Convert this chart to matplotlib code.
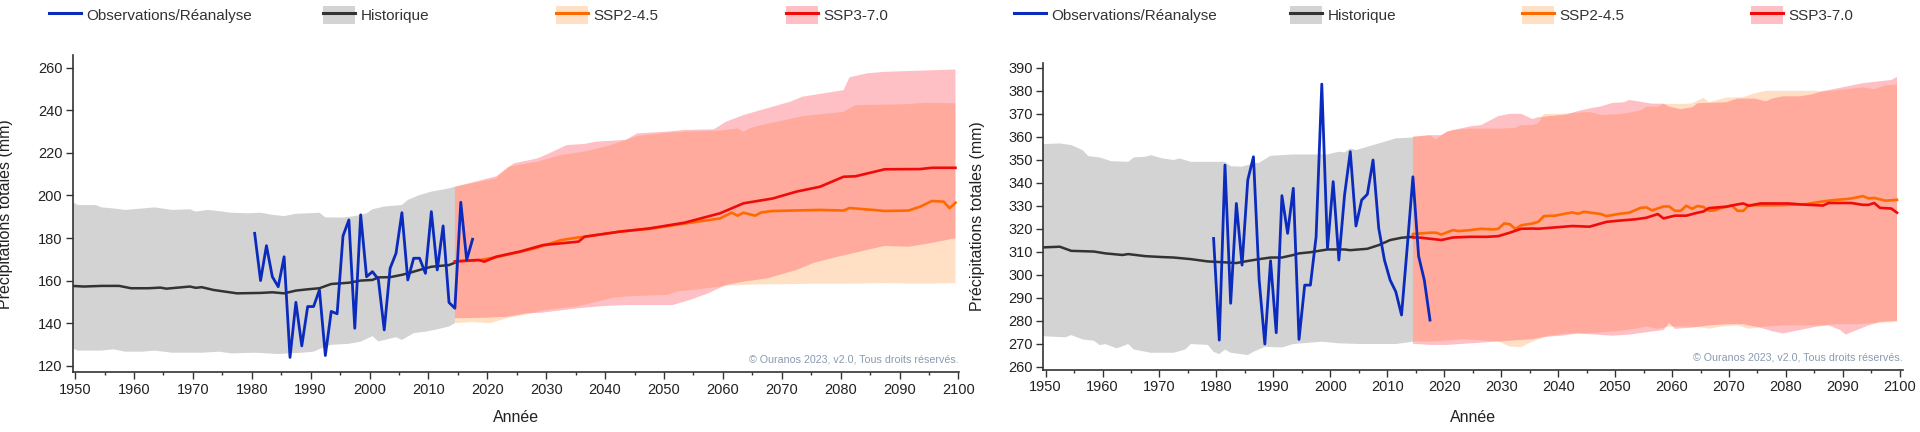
import numpy as np
import matplotlib
matplotlib.use("Agg")
import matplotlib.pyplot as plt
from matplotlib.patches import Patch
from matplotlib.lines import Line2D

plt.rcParams['font.family'] = ['Liberation Sans', 'DejaVu Sans']

# ---------------- left panel ----------------
l_obs_years = list(range(1981, 2019))
l_obs = [182.2, 160.0, 176.4, 161.8, 157.1, 171.2, 123.9, 149.8, 129.3, 147.8,
         147.8, 155.6, 124.8, 145.5, 144.4, 181.0, 188.5, 137.6, 190.9, 161.8,
         164.2, 160.6, 136.8, 165.8, 172.8, 191.9, 160.3, 170.5, 170.5, 163.4,
         192.4, 165.0, 185.7, 149.7, 147.0, 196.8, 169.7, 179.4]

l_hist_years = [1950, 1952, 1955, 1958, 1960, 1963, 1965, 1966, 1968, 1970,
                1971, 1972, 1974, 1976, 1978, 1982, 1984, 1986, 1988, 1990,
                1992, 1994, 1997, 1999, 2001, 2002, 2004, 2006, 2007, 2009,
                2011, 2014, 2015]
l_hist_mean = [157.5, 157.2, 157.5, 157.5, 156.4, 156.4, 156.7, 156.2, 156.7, 157.2,
               156.6, 156.9, 155.6, 154.8, 154.0, 154.2, 154.5, 154.0, 155.3, 155.9,
               156.4, 158.4, 159.0, 160.0, 160.3, 161.5, 161.6, 162.7, 163.4, 165.0,
               166.5, 167.3, 168.4]
l_hup_years = [1950, 1951, 1954, 1955, 1957, 1959, 1962, 1964, 1967, 1970,
               1971, 1973, 1975, 1977, 1980, 1982, 1984, 1986, 1988, 1990,
               1992, 1993, 1996, 1998, 2000, 2001, 2003, 2006, 2007, 2009,
               2011, 2014, 2015]
l_hup = [197.1, 195.5, 195.5, 194.4, 193.9, 193.2, 193.9, 194.4, 193.2, 193.5,
         192.4, 193.2, 192.6, 191.9, 191.6, 191.9, 190.9, 190.3, 191.4, 191.6,
         191.9, 189.7, 189.6, 190.3, 191.6, 193.5, 194.8, 195.5, 197.9, 200.2,
         201.8, 203.3, 204.1]
l_hlo_years = [1950, 1951, 1955, 1957, 1959, 1962, 1964, 1967, 1972, 1975,
               1977, 1981, 1985, 1989, 1991, 1993, 1994, 1997, 1999, 2001,
               2002, 2005, 2006, 2008, 2010, 2012, 2014, 2015]
l_hlo = [128.2, 127.1, 127.1, 127.7, 126.6, 126.6, 127.1, 126.1, 126.1, 126.6,
         125.8, 126.1, 125.5, 126.1, 126.6, 128.9, 129.8, 130.3, 131.3, 133.9,
         131.4, 133.4, 132.1, 135.3, 136.0, 137.1, 138.4, 140.0]

l_ssp2_years = [2015, 2019, 2022, 2026, 2029, 2033, 2036, 2037, 2043, 2048,
                2054, 2057, 2060, 2062, 2063, 2064, 2066, 2067, 2069, 2077,
                2081, 2082, 2086, 2088, 2092, 2094, 2096, 2098, 2099, 2100]
l_ssp2 = [169.0, 169.5, 171.0, 173.5, 175.5, 179.0, 180.3, 180.6, 183.0, 184.3,
          186.8, 188.0, 189.2, 191.9, 190.5, 191.9, 190.5, 192.0, 192.7, 193.2,
          192.9, 194.1, 193.2, 192.7, 192.9, 194.7, 197.4, 197.1, 194.0, 196.6]
l_ssp3_years = [2015, 2019, 2020, 2022, 2026, 2030, 2036, 2037, 2043, 2048,
                2054, 2060, 2064, 2069, 2073, 2077, 2081, 2083, 2088, 2094,
                2096, 2100]
l_ssp3 = [169.0, 169.7, 168.9, 171.2, 173.6, 176.7, 178.3, 180.6, 183.0, 184.5,
          187.2, 191.6, 196.3, 198.6, 201.8, 204.1, 208.8, 209.0, 212.3, 212.4,
          213.0, 213.0]

l_up2_years = [2015, 2022, 2024, 2029, 2033, 2037, 2041, 2044, 2046, 2051,
               2054, 2060, 2063, 2064, 2065, 2067, 2071, 2074, 2081, 2083,
               2091, 2095, 2100]
l_up2 = [204.1, 208.0, 213.5, 215.9, 219.0, 220.6, 223.3, 226.1, 228.0, 229.5,
         230.0, 230.5, 231.5, 230.0, 231.5, 233.1, 235.4, 237.3, 239.3, 242.5,
         242.8, 243.6, 243.3]
l_lo2_years = [2015, 2018, 2021, 2024, 2027, 2030, 2033, 2036, 2039, 2042,
               2044, 2048, 2051, 2053, 2055, 2058, 2061, 2064, 2070, 2076,
               2082, 2088, 2094, 2100]
l_lo2 = [140.0, 140.5, 140.0, 142.5, 144.0, 146.0, 147.0, 148.0, 150.0, 152.0,
         152.5, 153.0, 153.3, 155.0, 155.5, 156.5, 157.5, 158.0, 158.3, 158.5,
         158.5, 158.8, 158.5, 158.8]
l_up3_years = [2015, 2021, 2022, 2024, 2025, 2029, 2031, 2034, 2037, 2039,
               2044, 2046, 2051, 2054, 2059, 2061, 2064, 2065, 2072, 2074,
               2081, 2082, 2085, 2088, 2100]
l_up3 = [204.1, 208.3, 209.0, 213.0, 215.1, 217.4, 219.8, 223.7, 224.2, 225.3,
         226.1, 229.2, 230.0, 230.8, 231.1, 234.6, 237.8, 238.6, 244.1, 246.4,
         249.5, 255.5, 257.4, 258.1, 259.2]
l_lo3_years = [2015, 2020, 2024, 2027, 2030, 2033, 2036, 2040, 2044, 2048,
               2052, 2055, 2058, 2061, 2064, 2068, 2073, 2076, 2080, 2085,
               2088, 2092, 2095, 2100]
l_lo3 = [142.3, 142.5, 143.0, 144.5, 145.0, 146.0, 147.0, 148.0, 148.5, 148.5,
         148.5, 151.0, 154.0, 157.9, 159.5, 161.0, 165.0, 168.4, 171.2, 174.4,
         176.3, 175.9, 177.2, 179.9]

# ---------------- right panel ----------------
r_obs_years = list(range(1980, 2019))
r_obs = [315.8, 271.6, 347.7, 287.6, 331.0, 304.2, 341.2, 351.3, 297.7, 269.9,
         306.1, 274.8, 334.4, 318.0, 337.6, 271.9, 295.5, 295.5, 316.5, 382.9,
         311.5, 340.5, 306.4, 334.7, 353.5, 321.2, 332.5, 335.0, 349.9, 320.2,
         306.4, 297.7, 292.6, 282.5, 312.0, 342.6, 308.1, 297.7, 280.3]

r_hist_years = [1950, 1953, 1955, 1959, 1961, 1964, 1965, 1968, 1971, 1973,
                1976, 1979, 1982, 1984, 1986, 1988, 1990, 1992, 1994, 1995,
                1997, 2000, 2003, 2004, 2007, 2009, 2011, 2013, 2015]
r_hist_mean = [311.9, 312.2, 310.4, 310.1, 309.3, 308.6, 309.0, 308.1, 307.7, 307.5,
               306.8, 305.8, 305.4, 305.1, 306.0, 306.8, 307.5, 307.5, 308.6, 309.3,
               309.8, 311.0, 311.0, 310.7, 311.3, 312.9, 315.1, 316.1, 316.5]
r_hup_years = [1950, 1953, 1955, 1957, 1958, 1960, 1962, 1965, 1966, 1968,
               1969, 1971, 1973, 1974, 1976, 1982, 1983, 1985, 1987, 1988,
               1990, 1994, 2000, 2002, 2003, 2004, 2005, 2009, 2012, 2015]
r_hup = [356.8, 357.1, 356.4, 354.2, 351.6, 351.0, 349.4, 349.1, 351.0, 351.3,
         352.0, 350.6, 349.9, 350.6, 349.1, 349.1, 347.2, 347.0, 348.4, 348.7,
         351.7, 352.3, 352.3, 353.5, 353.2, 354.9, 354.2, 357.1, 359.3, 359.7]
r_hlo_years = [1950, 1954, 1955, 1957, 1959, 1960, 1961, 1963, 1964, 1965,
               1966, 1969, 1973, 1975, 1976, 1979, 1980, 1981, 1982, 1983,
               1986, 1987, 1989, 1992, 1994, 1999, 2002, 2006, 2012, 2015]
r_hlo = [273.3, 272.8, 273.8, 271.9, 271.3, 269.4, 269.9, 268.0, 268.9, 269.9,
         267.5, 266.1, 266.1, 267.5, 269.9, 269.5, 266.5, 265.5, 267.5, 266.1,
         265.1, 266.5, 268.7, 268.4, 269.9, 270.9, 270.2, 269.9, 269.9, 270.9]

r_ssp2_years = [2015, 2018, 2019, 2020, 2022, 2023, 2025, 2027, 2029, 2030,
                2031, 2032, 2033, 2034, 2036, 2037, 2038, 2040, 2042, 2043,
                2044, 2045, 2048, 2049, 2051, 2053, 2055, 2056, 2057, 2059,
                2060, 2061, 2062, 2063, 2064, 2065, 2066, 2067, 2068, 2069,
                2071, 2072, 2073, 2074, 2076, 2080, 2084, 2087, 2089, 2091,
                2092, 2094, 2095, 2096, 2098, 2100]
r_ssp2 = [317.7, 318.3, 318.3, 317.5, 319.4, 319.0, 319.4, 320.0, 319.7, 320.0,
          322.3, 322.0, 319.9, 321.5, 322.3, 323.0, 325.5, 325.7, 326.7, 327.1,
          326.5, 327.4, 326.4, 325.5, 326.4, 327.0, 329.1, 329.3, 328.0, 329.7,
          329.7, 327.8, 327.8, 330.0, 328.7, 329.9, 329.5, 327.8, 328.0, 329.0,
          330.1, 327.8, 327.8, 330.3, 330.2, 330.3, 330.7, 331.9, 332.5, 332.9,
          333.2, 334.2, 333.2, 333.4, 332.2, 332.6]
r_ssp3_years = [2015, 2016, 2019, 2020, 2022, 2025, 2028, 2030, 2032, 2034,
                2036, 2037, 2040, 2043, 2046, 2049, 2051, 2054, 2056, 2058,
                2059, 2061, 2063, 2065, 2066, 2067, 2070, 2072, 2073, 2074,
                2076, 2081, 2083, 2087, 2088, 2092, 2094, 2095, 2096, 2097,
                2099, 2100]
r_ssp3 = [316.2, 316.2, 315.4, 315.1, 316.2, 316.5, 316.5, 316.8, 318.3, 320.0,
          320.1, 320.0, 320.6, 321.2, 320.9, 323.0, 323.5, 324.1, 324.8, 326.4,
          324.5, 325.7, 325.7, 327.0, 327.5, 329.0, 329.6, 330.6, 331.0, 330.0,
          331.0, 331.0, 330.6, 330.1, 331.2, 331.2, 330.4, 330.4, 331.2, 329.1,
          328.8, 327.0]

r_up2_years = [2015, 2018, 2019, 2020, 2021, 2022, 2025, 2027, 2030, 2033,
               2034, 2036, 2037, 2038, 2041, 2044, 2046, 2048, 2051, 2053,
               2055, 2056, 2058, 2059, 2062, 2064, 2066, 2067, 2070, 2073,
               2075, 2077, 2082, 2086, 2087, 2094, 2096, 2098, 2100]
r_up2 = [360.0, 360.7, 358.8, 360.7, 362.2, 362.9, 363.6, 363.6, 363.5, 363.9,
         365.1, 365.1, 365.9, 369.9, 370.0, 370.5, 370.8, 369.5, 369.8, 370.5,
         371.5, 373.1, 373.1, 374.3, 374.3, 374.5, 376.9, 375.0, 377.0, 377.2,
         378.9, 380.0, 380.0, 380.0, 379.6, 381.5, 380.7, 382.4, 382.7]
r_lo2_years = [2015, 2018, 2021, 2024, 2027, 2030, 2032, 2034, 2036, 2039,
               2042, 2045, 2048, 2051, 2054, 2056, 2058, 2060, 2063, 2066,
               2067, 2069, 2072, 2074, 2077, 2080, 2083, 2086, 2090, 2093,
               2096, 2100]
r_lo2 = [271.0, 271.0, 271.5, 272.0, 271.5, 271.0, 268.8, 268.5, 271.0, 273.5,
         274.5, 274.5, 275.0, 275.5, 276.5, 277.5, 276.5, 277.5, 277.5, 277.0,
         276.5, 277.5, 278.0, 276.5, 277.5, 278.0, 278.0, 278.0, 278.5, 278.5,
         279.0, 279.5]
r_up3_years = [2015, 2018, 2020, 2021, 2022, 2025, 2027, 2030, 2032, 2034,
               2036, 2037, 2042, 2044, 2046, 2048, 2050, 2052, 2053, 2057,
               2059, 2060, 2062, 2064, 2065, 2070, 2072, 2075, 2077, 2078,
               2080, 2083, 2085, 2087, 2089, 2094, 2099, 2100]
r_up3 = [360.0, 360.7, 360.7, 362.2, 362.9, 364.5, 365.1, 369.0, 370.0, 370.0,
         367.7, 368.5, 369.7, 371.2, 372.3, 373.2, 374.7, 375.0, 376.0, 374.4,
         374.4, 373.1, 372.0, 372.8, 374.6, 375.0, 376.6, 376.6, 375.4, 376.6,
         377.6, 377.6, 378.4, 379.9, 380.8, 383.3, 384.7, 386.0]
r_lo3_years = [2015, 2018, 2021, 2024, 2027, 2030, 2033, 2036, 2038, 2041,
               2044, 2047, 2050, 2053, 2056, 2059, 2060, 2061, 2064, 2067,
               2070, 2073, 2076, 2078, 2080, 2083, 2086, 2088, 2090, 2091,
               2093, 2095, 2097, 2100]
r_lo3 = [270.0, 269.5, 269.5, 270.0, 270.5, 271.0, 271.5, 272.0, 273.0, 273.5,
         274.5, 274.0, 273.5, 274.0, 275.0, 276.0, 279.0, 276.5, 277.0, 278.0,
         278.5, 278.5, 277.0, 275.5, 274.5, 276.0, 277.5, 278.0, 276.0, 274.0,
         276.0, 278.0, 279.5, 280.0]

legend_labels = ["Observations/Réanalyse", "Historique", "SSP2-4.5", "SSP3-7.0"]

# colours
OBS_C = '#0a2bbd'
HIST_C = '#333333'
HIST_FILL = '#d3d3d3'
SSP2_C = '#ff6a00'
SSP2_FILL = (1.0, 0.60, 0.25, 0.3)
SSP3_C = '#f00a0a'
SSP3_FILL = (1.0, 0.19, 0.25, 0.3)
AX_C = '#333333'

SHIFT = -0.5  # annual values drawn at mid-interval


def band(ax, xu, yu, xl, yl, color, z):
    xu = np.asarray(xu, float) + SHIFT
    xl = np.asarray(xl, float) + SHIFT
    ax.fill(np.r_[xu, xl[::-1]], np.r_[yu, yl[::-1]], color=color, lw=0, zorder=z)


def line(ax, x, y, color, lw, z):
    ax.plot(np.asarray(x, float) + SHIFT, y, color=color, lw=lw, zorder=z,
            solid_joinstyle='round')


fig = plt.figure(figsize=(19.2, 4.32), dpi=100)
W, H = 1920.0, 432.0

panels = [
    dict(rect=(72.7, 55.0, 959.0, 372.3), ylim=(116.9, 266.0), yticks=range(120, 261, 20),
         xlim=(1949.6, 2100.1), ylab_x=13.5,
         hist=(l_hist_years, l_hist_mean, l_hup_years, l_hup, l_hlo_years, l_hlo),
         s2=(l_ssp2_years, l_ssp2, l_up2_years, l_up2, l_lo2_years, l_lo2),
         s3=(l_ssp3_years, l_ssp3, l_up3_years, l_up3, l_lo3_years, l_lo3),
         obs=(l_obs_years, l_obs), leg_x=[49, 323, 556, 786]),
    dict(rect=(1043.3, 62.7, 1902.7, 370.0), ylim=(258.6, 392.2), yticks=range(260, 391, 10),
         xlim=(1949.6, 2100.5), ylab_x=985.0,
         hist=(r_hist_years, r_hist_mean, r_hup_years, r_hup, r_hlo_years, r_hlo),
         s2=(r_ssp2_years, r_ssp2, r_up2_years, r_up2, r_lo2_years, r_lo2),
         s3=(r_ssp3_years, r_ssp3, r_up3_years, r_up3, r_lo3_years, r_lo3),
         obs=(r_obs_years, r_obs), leg_x=[1014, 1290, 1522, 1751]),
]

for p in panels:
    x0, y0, x1, y1 = p['rect']
    ax = fig.add_axes([x0 / W, 1 - y1 / H, (x1 - x0) / W, (y1 - y0) / H])

    hy, hm, huy, hu, hly, hl = p['hist']
    band(ax, huy, hu, hly, hl, HIST_FILL, 1)
    s2y, s2m, u2y, u2, l2y, l2 = p['s2']
    s3y, s3m, u3y, u3, l3y, l3 = p['s3']
    band(ax, u2y, u2, l2y, l2, SSP2_FILL, 2)
    band(ax, u3y, u3, l3y, l3, SSP3_FILL, 3)

    line(ax, hy, hm, HIST_C, 1.8, 5)
    line(ax, s2y, s2m, SSP2_C, 1.9, 6)
    line(ax, s3y, s3m, SSP3_C, 1.9, 7)
    oy, ov = p['obs']
    line(ax, oy, ov, OBS_C, 2.0, 8)

    ax.set_xlim(*p['xlim'])
    ax.set_ylim(*p['ylim'])
    ax.set_xticks(range(1950, 2101, 10))
    ax.set_xticks(range(1955, 2100, 10), minor=True)
    ax.set_yticks(list(p['yticks']))
    for s in ['top', 'right']:
        ax.spines[s].set_visible(False)
    for s in ['left', 'bottom']:
        ax.spines[s].set_color(AX_C)
        ax.spines[s].set_linewidth(1.2)
    ax.tick_params(which='major', length=5, width=1, color=AX_C, labelsize=10.5,
                   labelcolor='#222222', pad=2.5)
    ax.tick_params(which='minor', length=2.5, width=1, color=AX_C)
    ax.set_facecolor('white')

    ax.set_ylabel("Précipitations totales (mm)", fontsize=11.5, color='#222222')
    ax.yaxis.set_label_coords((p['ylab_x'] - x0) / (x1 - x0), 0.5)
    ax.set_xlabel("Année", fontsize=11.5, color='#222222')
    ax.xaxis.set_label_coords(0.5, -(410.0 - y1) / (y1 - y0))

    ax.text(1.0, 13.0 / (y1 - y0), "© Ouranos 2023, v2.0, Tous droits réservés.",
            transform=ax.transAxes, ha='right', va='center', fontsize=7.7,
            color='#8a9ab0')

    handles = [
        Line2D([], [], color=OBS_C, lw=2.2),
        (Patch(facecolor=HIST_FILL, lw=0), Line2D([], [], color=HIST_C, lw=2.2)),
        (Patch(facecolor=SSP2_FILL, lw=0), Line2D([], [], color=SSP2_C, lw=2.2)),
        (Patch(facecolor=SSP3_FILL, lw=0), Line2D([], [], color=SSP3_C, lw=2.2)),
    ]
    for h, lab, lx in zip(handles, legend_labels, p['leg_x']):
        fig.legend([h], [lab], loc='center left', bbox_to_anchor=(lx / W, 1 - 15 / H),
                   frameon=False, borderpad=0, borderaxespad=0, handlelength=2.1,
                   handleheight=1.4, handletextpad=0.35, fontsize=11,
                   labelcolor='#333333')

fig.savefig("out.png", dpi=100, facecolor='white')
